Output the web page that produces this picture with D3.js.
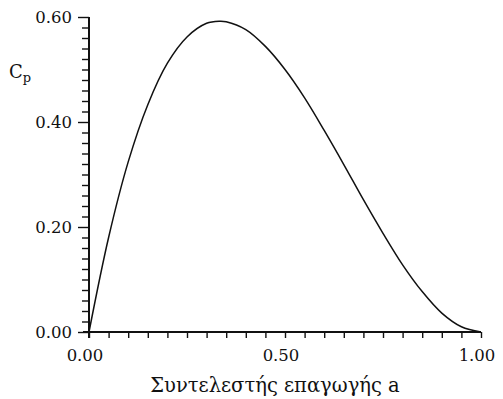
<!DOCTYPE html>
<html>
<head>
<meta charset="utf-8">
<script src="https://cdn.jsdelivr.net/npm/d3@7"></script>
<style>
  body { margin: 0; background: #fff; }
</style>
</head>
<body>
<svg id="svg" width="503" height="399"></svg>
<script>
// induction factor a and power coefficient Cp
const aValues = [0, 0.05, 0.10, 0.15, 0.20, 0.25, 0.30, 0.333, 0.35, 0.40, 0.45, 0.50,
    0.55, 0.60, 0.65, 0.70, 0.75, 0.80, 0.85, 0.90, 0.95, 1.00];
const cpValues = [0, 0.18, 0.324, 0.433, 0.512, 0.562, 0.588, 0.592, 0.591, 0.576, 0.544, 0.50,
    0.446, 0.384, 0.319, 0.252, 0.188, 0.128, 0.077, 0.036, 0.01, 0];

const xTickLabels = ["0.00", "0.50", "1.00"];
const yTickLabels = ["0.00", "0.20", "0.40", "0.60"];

const font = "DejaVu Serif";
const ink = "#111";

const svg = d3.select("#svg");

const x = d3.scaleLinear().domain([0, 1]).range([89, 481]);
const y = d3.scaleLinear().domain([0, 0.6]).range([332, 17]);

// x axis, minor ticks every 0.05 below the line
const xAxis = d3.axisBottom(x)
    .tickValues(d3.range(0, 1.0001, 0.05))
    .tickSize(6)
    .tickFormat("");
const gx = svg.append("g")
    .attr("transform", `translate(0,${y(0)})`)
    .call(xAxis);
gx.select(".domain").attr("stroke", ink).attr("stroke-width", 2)
    .attr("d", `M${x(0) - 6},0H${x(1)}`);
gx.selectAll(".tick line").attr("stroke", ink).attr("stroke-width", 1.4);

// y axis, ticks every 0.02 to the left
const yAxis = d3.axisLeft(y)
    .tickValues(d3.range(0, 0.6001, 0.02))
    .tickSize(7)
    .tickFormat("");
const gy = svg.append("g")
    .attr("transform", `translate(${x(0)},0)`)
    .call(yAxis);
gy.select(".domain").attr("stroke", ink).attr("stroke-width", 2)
    .attr("d", `M0,${y(0.6)}V${y(0) + 6}`);
gy.selectAll(".tick line").attr("stroke", ink).attr("stroke-width", 1.4)
    .attr("x2", d => Math.abs(d * 5 - Math.round(d * 5)) < 1e-6 ? -11 : -7);

// tick labels
svg.selectAll("text.xlab")
    .data(xTickLabels)
    .enter().append("text")
    .attr("class", "xlab")
    .attr("x", d => x(+d) - 4)
    .attr("y", 361)
    .attr("text-anchor", "middle")
    .attr("font-family", font)
    .attr("font-size", 16.5)
    .attr("fill", ink)
    .text(d => d);

svg.selectAll("text.ylab")
    .data(yTickLabels)
    .enter().append("text")
    .attr("class", "ylab")
    .attr("x", 72)
    .attr("y", d => y(+d) + 6)
    .attr("text-anchor", "end")
    .attr("font-family", font)
    .attr("font-size", 16.5)
    .attr("fill", ink)
    .text(d => d);

// axis titles
const cp = svg.append("text")
    .attr("x", 9)
    .attr("y", 78)
    .attr("font-family", font)
    .attr("font-size", 18)
    .attr("fill", ink);
cp.append("tspan").text("C");
cp.append("tspan").attr("font-size", 13).attr("dy", 4).text("p");

svg.append("text")
    .attr("x", 275)
    .attr("y", 392)
    .attr("text-anchor", "middle")
    .attr("font-family", font)
    .attr("font-size", 19.5)
    .attr("fill", ink)
    .text("Συντελεστής επαγωγής a");

// curve
const line = d3.line()
    .x((d, i) => x(aValues[i]))
    .y(d => y(d))
    .curve(d3.curveCatmullRom.alpha(0.5));

svg.append("path")
    .datum(cpValues)
    .attr("fill", "none")
    .attr("stroke", ink)
    .attr("stroke-width", 1.5)
    .attr("d", line);
</script>
</body>
</html>
